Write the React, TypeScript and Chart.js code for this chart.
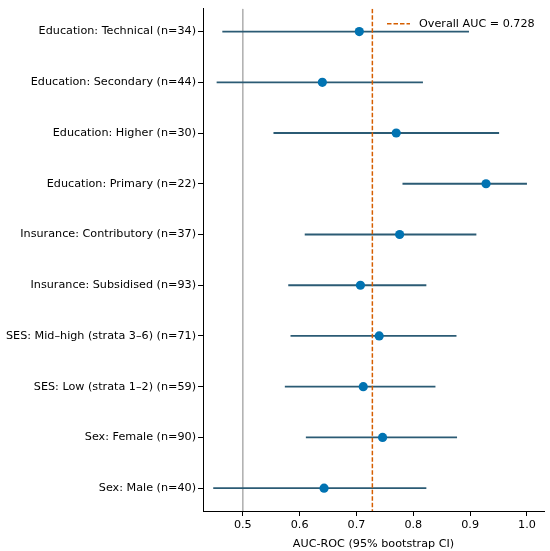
import { useEffect, useRef } from "react"
import { Chart, registerables } from "chart.js"

Chart.register(...registerables)

// rows, top to bottom
const categories = [
  "Education: Technical (n=34)",
  "Education: Secondary (n=44)",
  "Education: Higher (n=30)",
  "Education: Primary (n=22)",
  "Insurance: Contributory (n=37)",
  "Insurance: Subsidised (n=93)",
  "SES: Mid–high (strata 3–6) (n=71)",
  "SES: Low (strata 1–2) (n=59)",
  "Sex: Female (n=90)",
  "Sex: Male (n=40)",
]
const auc = [0.705, 0.64, 0.77, 0.928, 0.776, 0.707, 0.74, 0.712, 0.746, 0.643]
const lower = [0.464, 0.454, 0.554, 0.781, 0.609, 0.58, 0.584, 0.574, 0.611, 0.448]
const upper = [0.898, 0.817, 0.951, 1.0, 0.911, 0.823, 0.876, 0.839, 0.877, 0.823]
const overallAuc = 0.728
const chanceLevel = 0.5
const xTicks = [0.5, 0.6, 0.7, 0.8, 0.9, 1.0]

const fontFamily = "'DejaVu Sans', sans-serif"
const font = { family: fontFamily, size: 11.2 }
const overallColor = "#d55e00"
const overallLabel = `Overall AUC = ${overallAuc}`
const dash = [4.5, 2]

// matplotlib-style legend sitting inside the top right of the plot
const insideLegend = {
  id: "insideLegend",
  afterDraw(chart: Chart) {
    const { ctx, chartArea } = chart
    const y = chartArea.top + 15
    const x0 = chartArea.right - 157
    ctx.save()
    ctx.strokeStyle = overallColor
    ctx.lineWidth = 1.5
    ctx.setLineDash(dash)
    ctx.beginPath()
    ctx.moveTo(x0, y)
    ctx.lineTo(x0 + 23, y)
    ctx.stroke()
    ctx.setLineDash([])
    ctx.fillStyle = "#000"
    ctx.font = `${font.size}px ${fontFamily}`
    ctx.textBaseline = "middle"
    ctx.textAlign = "left"
    ctx.fillText(overallLabel, x0 + 32, y)
    ctx.restore()
  },
}

export default function App() {
  const chartRef = useRef<HTMLCanvasElement>(null)
  const chartInstance = useRef<Chart | null>(null)

  useEffect(() => {
    if (!chartRef.current) return
    if (chartInstance.current) chartInstance.current.destroy()
    const ctx = chartRef.current.getContext("2d")
    if (!ctx) return

    const yMin = -0.45
    const yMax = categories.length - 1 + 0.45

    const errorBars = categories.map((c, i) => ({
      type: "scatter" as const,
      label: c,
      data: [
        { x: lower[i], y: i },
        { x: upper[i], y: i },
      ],
      showLine: true,
      borderColor: "#2b5b74",
      borderWidth: 1.8,
      pointRadius: 0,
      order: 2,
    }))

    chartInstance.current = new Chart(ctx, {
      type: "scatter",
      data: {
        datasets: [
          {
            label: "AUC",
            data: auc.map((v, i) => ({ x: v, y: i })),
            backgroundColor: "#0173b2",
            borderColor: "#0173b2",
            pointRadius: 4.6,
            pointBorderWidth: 0,
            order: 0,
          },
          {
            label: overallLabel,
            data: [
              { x: overallAuc, y: yMin },
              { x: overallAuc, y: yMax },
            ],
            showLine: true,
            borderColor: overallColor,
            borderWidth: 1.5,
            borderDash: dash,
            pointRadius: 0,
            order: 1,
          },
          ...errorBars,
          {
            label: "chance",
            data: [
              { x: chanceLevel, y: yMin },
              { x: chanceLevel, y: yMax },
            ],
            showLine: true,
            borderColor: "#b3b3b3",
            borderWidth: 1,
            pointRadius: 0,
            order: 3,
          },
        ],
      },
      options: {
        animation: false,
        responsive: true,
        maintainAspectRatio: false,
        layout: { padding: { top: 8, right: 6, left: 0, bottom: 0 } },
        plugins: {
          tooltip: { enabled: false },
          legend: { display: false },
        },
        scales: {
          x: {
            type: "linear",
            min: 0.43,
            max: 1.03,
            border: { display: true, color: "#000", width: 1 },
            grid: {
              display: true,
              drawOnChartArea: false,
              drawTicks: true,
              tickLength: 5,
              tickColor: "#000",
            },
            afterBuildTicks: (axis) => {
              axis.ticks = xTicks.map((v) => ({ value: v }))
            },
            ticks: {
              color: "#000",
              font,
              padding: 2,
              callback: (v) => Number(v).toFixed(1),
            },
            title: {
              display: true,
              text: "AUC-ROC (95% bootstrap CI)",
              color: "#000",
              font,
              padding: { top: 4, bottom: 0 },
            },
            afterFit: (axis) => {
              axis.height = 40
            },
          },
          y: {
            type: "linear",
            reverse: true,
            min: yMin,
            max: yMax,
            border: { display: true, color: "#000", width: 1 },
            grid: {
              display: true,
              drawOnChartArea: false,
              drawTicks: true,
              tickLength: 5,
              tickColor: "#000",
            },
            afterBuildTicks: (axis) => {
              axis.ticks = categories.map((_, i) => ({ value: i }))
            },
            ticks: {
              autoSkip: false,
              color: "#000",
              font,
              padding: 2,
              callback: (v) => categories[Number(v)],
            },
            afterFit: (axis) => {
              axis.width = 203
            },
          },
        },
      },
      plugins: [insideLegend],
    })

    return () => {
      if (chartInstance.current) {
        chartInstance.current.destroy()
        chartInstance.current = null
      }
    }
  }, [])

  return (
    <div style={{ position: "fixed", left: 0, top: 0, width: 550, height: 551, background: "#fff" }}>
      <canvas ref={chartRef} />
    </div>
  )
}
